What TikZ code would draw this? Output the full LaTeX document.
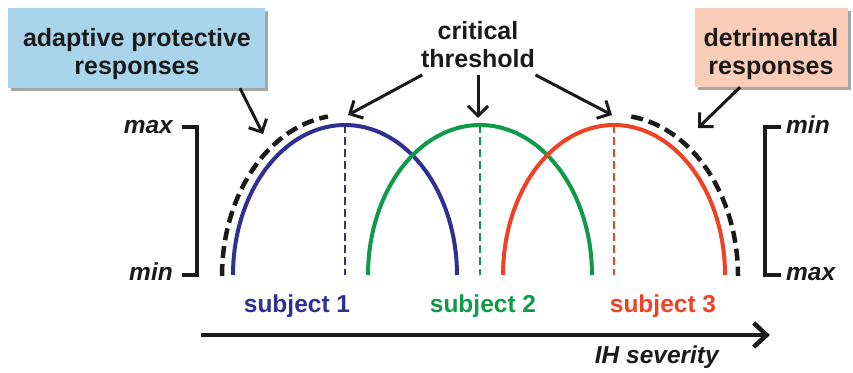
\documentclass[tikz,border=0pt]{standalone}
\usepackage{fontspec}
\setmainfont{Liberation Sans}
\usetikzlibrary{arrows.meta,calc}
\definecolor{cblue}{HTML}{2E3192}
\definecolor{cgreen}{HTML}{0E9A48}
\definecolor{cred}{HTML}{EF4123}
\definecolor{boxblue}{HTML}{A9D5EC}
\definecolor{boxred}{HTML}{F9CDB8}
\definecolor{ink}{HTML}{1A1A1A}
\tikzset{
  lbl/.style={font=\fontsize{25}{28}\selectfont\bfseries, inner sep=0pt, align=center, text=ink},
  ilbl/.style={font=\fontsize{24.5}{28}\selectfont\bfseries\itshape, inner sep=0pt, text=ink},
  slbl/.style={font=\fontsize{24.5}{28}\selectfont\bfseries, inner sep=0pt},
  respbox/.style={inner sep=0pt, draw=none},
  shadowbox/.style={fill=black!35, draw=none},
  curve/.style={line width=4pt},
  peakline/.style={line width=2pt, dash pattern=on 8pt off 4pt},
  envelope/.style={line width=4.5pt, dash pattern=on 12pt off 6pt, draw=ink},
  ptr/.style={line width=3pt, draw=ink, -{Straight Barb[length=10pt,width=20pt,line width=3pt]}},
  axisline/.style={line width=4.5pt, draw=ink, -{Straight Barb[length=13pt,width=24pt,line width=4.5pt]}},
  brk/.style={line width=3.5pt, draw=ink, line cap=butt, line join=miter}
}
\begin{document}
\begin{tikzpicture}[x=1pt,y=-1pt]
\useasboundingbox (0,0) rectangle (853,372);
% boxes with shadows
\fill[shadowbox] (11,11) rectangle (268,91);
\node[respbox, fill=boxblue, minimum width=257pt, minimum height=80pt] (adapt) at (136.5,48) {};
\node[lbl] (adaptT) at (137,54.5) {adaptive protective\\responses};
\fill[shadowbox] (698,11) rectangle (851,90);
\node[respbox, fill=boxred, minimum width=153pt, minimum height=79pt] (detr) at (771.5,47.5) {};
\node[lbl] (detrT) at (771,54.5) {detrimental\\responses};
% critical threshold
\node[lbl, outer sep=7pt] (crit) at (478,44.75) {critical\\threshold};
% peaks, feet
\coordinate (top1) at (345,125); \coordinate (foot1) at (345,275);
\coordinate (top2) at (480,125); \coordinate (foot2) at (480,275);
\coordinate (top3) at (614,125); \coordinate (foot3) at (614,275);
% curves
\draw[curve, cblue] plot[domain=180:0, samples=120] ({345+112*cos(\x)}, {275-150*sin(\x)});
\draw[curve, cgreen] plot[domain=180:0, samples=120] ({480+112*cos(\x)}, {275-150*sin(\x)});
\draw[curve, cred] plot[domain=180:0, samples=120] ({614+111*cos(\x)}, {275-150*sin(\x)});
\draw[peakline, cblue] (top1) -- (foot1);
\draw[peakline, cgreen] (top2) -- (foot2);
\draw[peakline, cred] (top3) -- (foot3);
% envelopes
\draw[envelope] plot[domain=180:98, samples=80] ({345+123*cos(\x)}, {276-161*sin(\x)});
\draw[envelope] plot[domain=82:0, samples=80] ({614+124*cos(\x)}, {276-161*sin(\x)});
% arrows
\coordinate (tipA) at (263,134);
\coordinate (tipB) at (698,128);
\coordinate (t1) at (348,115);
\coordinate (t2) at (478,118);
\coordinate (t3) at (612,115);
\draw[ptr] ([xshift=103.5pt]adapt.south) -- (tipA);
\draw[ptr] ([xshift=-31.5pt]detr.south) -- (tipB);
\draw[ptr] (crit) -- (t1);
\draw[ptr] (crit) -- (t2);
\draw[ptr] (crit) -- (t3);
% brackets
\draw[brk] (182,127) -- (197,127) -- (197,275) -- (182,275);
\draw[brk] (781,127) -- (765,127) -- (765,275) -- (781,275);
\node[ilbl, anchor=base east] (lmax) at (173,133) {max};
\node[ilbl, anchor=base east] (lmin) at (173,280) {min};
\node[ilbl, anchor=base west] (rmin) at (786,133) {min};
\node[ilbl, anchor=base west] (rmax) at (786,280) {max};
% subjects
\node[slbl, text=cblue, anchor=base] (s1) at (297,312) {subject 1};
\node[slbl, text=cgreen, anchor=base] (s2) at (483,312) {subject 2};
\node[slbl, text=cred, anchor=base] (s3) at (663,312) {subject 3};
% axis
\coordinate (ax0) at (201,335);
\coordinate (ax1) at (770,335);
\draw[axisline] (ax0) -- (ax1);
\node[ilbl, anchor=base east] (ih) at (719,363) {IH severity};
\end{tikzpicture}
\end{document}
